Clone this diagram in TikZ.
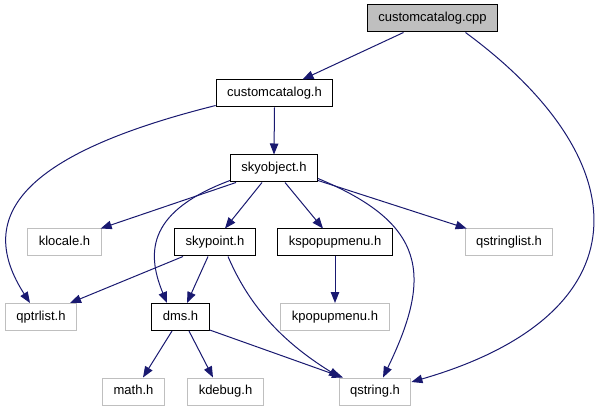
\documentclass[tikz,border=0pt]{standalone}
\usepackage{fontspec}
\setmainfont{Liberation Sans}
\usepackage{xcolor}
\usepackage{tikz}
\usetikzlibrary{arrows.meta}
\definecolor{InclC}{RGB}{25,25,112}
\definecolor{ExtGray}{RGB}{191,191,191}
\tikzset{
  hfile/.style={draw=black,line width=1pt,fill=white,minimum height=27pt,
                inner xsep=11pt,inner ysep=0pt,text height=9.5pt,text depth=2.7pt,
                font=\fontsize{13}{15}\selectfont},
  extfile/.style={hfile,draw=ExtGray},
  srcfile/.style={hfile,fill=ExtGray},
  incl/.style={-{Triangle[length=11pt,width=8.5pt]},line width=1pt,InclC},
}

\begin{document}
\begin{tikzpicture}[x=1pt,y=-1pt]
  \useasboundingbox (0,0) rectangle (596,411);

  \node[srcfile] (cpp) at (432.5,18.5) {customcatalog.cpp};
  \node[hfile]   (cch) at (274.5,93.5) {customcatalog.h};
  \node[hfile]   (sky) at (274,168.5)  {skyobject.h};
  \node[extfile] (kl)  at (64.5,242.5) {klocale.h};
  \node[hfile]   (sp)  at (215,242.5)  {skypoint.h};
  \node[hfile]   (ksp) at (335,242.5)  {kspopupmenu.h};
  \node[extfile] (qsl) at (509,242.5)  {qstringlist.h};
  \node[extfile] (qp)  at (41,317)     {qptrlist.h};
  \node[hfile]   (dms) at (180.5,317)  {dms.h};
  \node[extfile] (kpm) at (335,317)    {kpopupmenu.h};
  \node[extfile] (mh)  at (133.5,391.5) {math.h};
  \node[extfile] (kd)  at (225.5,391.5) {kdebug.h};
  \node[extfile] (qs)  at (375,391.5)  {qstring.h};

  \draw[incl] ([xshift=-29pt]cpp.south) -- ([xshift=28pt]cch.north);
  \draw[incl] ([xshift=33pt]cpp.south) .. controls +(178,131) and +(232,-67) .. ([yshift=9.5pt]qs.east);
  \draw[incl] (cch.south) -- (sky.north);
  \draw[incl] ([yshift=2pt]cch.south west) .. controls +(-200,50) and +(-54,-84) .. ([xshift=-11pt]qp.north);
  \draw[incl] ([xshift=-38pt]sky.south) -- ([xshift=-1pt]kl.north east);
  \draw[incl] ([xshift=-12pt]sky.south) -- ([xshift=10pt]sp.north);
  \draw[incl] ([yshift=2pt]sky.south west) .. controls +(-80,30) and +(-22,-53) .. ([xshift=-13.5pt]dms.north);
  \draw[incl] ([xshift=11pt]sky.south) -- ([xshift=-12pt]ksp.north);
  \draw[incl] ([yshift=2pt]sky.south east) -- ([xshift=2pt]qsl.north west);
  \draw[incl] ([yshift=4pt]sky.south east) .. controls +(108,45) and +(50,-103) .. ([xshift=8pt]qs.north);
  \draw[incl] (ksp.south) -- (kpm.north);
  \draw[incl] ([xshift=-32pt]sp.south) -- ([xshift=-7pt]qp.north east);
  \draw[incl] ([xshift=-7pt]sp.south) -- ([xshift=6.5pt]dms.north);
  \draw[incl] ([xshift=13pt]sp.south) .. controls +(18,42) and +(-65,-40) .. ([xshift=-35pt]qs.north);
  \draw[incl] ([xshift=-8.5pt]dms.south) -- ([xshift=9.5pt]mh.north);
  \draw[incl] ([xshift=8.5pt]dms.south) -- ([xshift=-12.5pt]kd.north);
  \draw[incl] ([yshift=1pt]dms.south east) -- ([xshift=-32pt]qs.north);
\end{tikzpicture}
\end{document}
